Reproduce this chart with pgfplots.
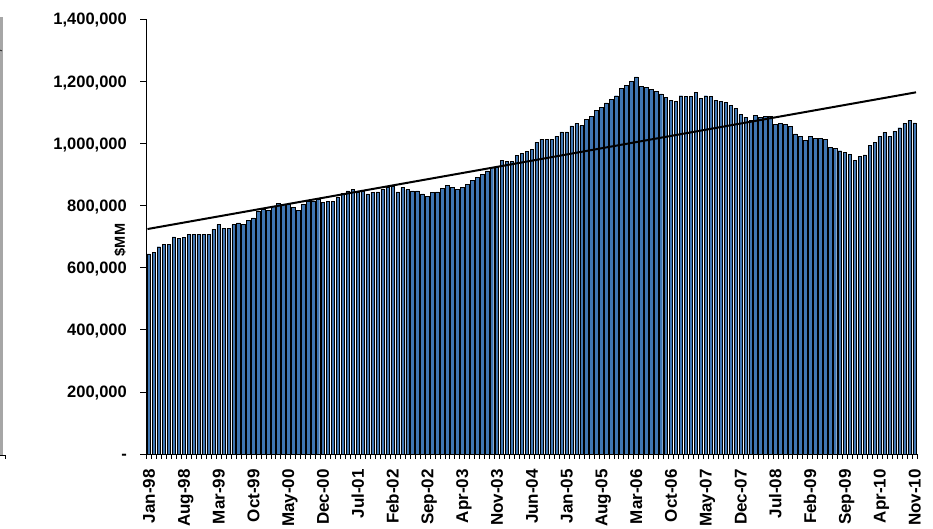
\documentclass[border=0pt]{standalone}
\usepackage{pgfplots}
\pgfplotsset{compat=1.18}
\usepackage{fontspec}
\setmainfont{Liberation Sans}
\definecolor{barblue}{RGB}{64,118,178}
\begin{document}
\begin{tikzpicture}
\useasboundingbox (-146.5pt,-75pt) rectangle (786.5pt,454pt);
% cropped edge of a neighbouring chart
\fill[gray!70] (-146.5pt,-1pt) rectangle (-143.3pt,437pt);
\draw[black, line width=0.6pt] (-146.5pt,-1pt) -- (-141.5pt,-1pt) -- (-141.5pt,-5pt);
\draw[black, line width=0.6pt] (-146.5pt,404pt) -- (-144.5pt,403pt);
\begin{axis}[name=ax, at={(0pt,0pt)}, anchor=south west,
  scale only axis, width=770.5pt, height=435pt,
  xmin=-0.5, xmax=154.5, ymin=0, ymax=1400000,
  axis x line=bottom, axis y line=left,
  axis line style={-, black, line width=0.6pt},
  tick align=outside, major tick length=6pt, minor tick length=5pt,
  ytick={0,200000,400000,600000,800000,1000000,1200000,1400000},
  yticklabels={{-},{200,000},{400,000},{600,000},{800,000},{1,000,000},{1,200,000},{1,400,000}},
  scaled y ticks=false,
  xtick={0,7,...,154},
  xticklabels={Jan-98,Aug-98,Mar-99,Oct-99,May-00,Dec-00,Jul-01,Feb-02,Sep-02,Apr-03,Nov-03,Jun-04,Jan-05,Aug-05,Mar-06,Oct-06,May-07,Dec-07,Jul-08,Feb-09,Sep-09,Apr-10,Nov-10},
  minor xtick={-0.5,0.5,...,154.5},
  major x tick style={draw=none},
  minor x tick style={black, line width=0.5pt},
  y tick style={black, line width=0.6pt},
  tick label style={inner sep=0pt, text height=12pt, text depth=0pt},
  yticklabel style={anchor=east, font=\bfseries\fontsize{16.5}{16.5}\selectfont},
  yticklabel shift=13.5pt,
  xticklabel style={rotate=90, anchor=east, font=\bfseries\fontsize{17}{17}\selectfont},
  xticklabel shift=9pt,
]
\addplot[ybar, bar width=0.7, bar shift=0, fill=barblue, draw=black, line width=0.45pt] coordinates {
(0,644000) (1,648000) (2,667000) (3,675000) (4,675000) (5,699000) (6,694000) (7,697000)
(8,708000) (9,708000) (10,708000) (11,708000) (12,708000) (13,723000) (14,738000) (15,726000)
(16,726000) (17,738000) (18,744000) (19,740000) (20,751000) (21,760000) (22,782000) (23,787000)
(24,785000) (25,796000) (26,807000) (27,803000) (28,803000) (29,793000) (30,783000) (31,804000)
(32,812000) (33,814000) (34,820000) (35,810000) (36,814000) (37,814000) (38,826000) (39,839000)
(40,847000) (41,852000) (42,844000) (43,847000) (44,837000) (45,843000) (46,844000) (47,852000)
(48,858000) (49,862000) (50,844000) (51,857000) (52,851000) (53,847000) (54,847000) (55,837000)
(56,830000) (57,841000) (58,844000) (59,854000) (60,864000) (61,857000) (62,851000) (63,858000)
(64,868000) (65,880000) (66,890000) (67,900000) (68,911000) (69,922000) (70,922000) (71,946000)
(72,941000) (73,941000) (74,960000) (75,968000) (76,974000) (77,981000) (78,1003000) (79,1013000)
(80,1013000) (81,1013000) (82,1023000) (83,1037000) (84,1037000) (85,1056000) (86,1063000) (87,1057000)
(88,1077000) (89,1087000) (90,1105000) (91,1116000) (92,1130000) (93,1142000) (94,1153000) (95,1177000)
(96,1187000) (97,1200000) (98,1214000) (99,1184000) (100,1180000) (101,1174000) (102,1166000) (103,1159000)
(104,1148000) (105,1139000) (106,1136000) (107,1153000) (108,1150000) (109,1150000) (110,1163000) (111,1145000)
(112,1153000) (113,1150000) (114,1139000) (115,1136000) (116,1132000) (117,1123000) (118,1112000) (119,1093000)
(120,1084000) (121,1073000) (122,1089000) (123,1084000) (124,1086000) (125,1086000) (126,1061000) (127,1064000)
(128,1061000) (129,1055000) (130,1030000) (131,1023000) (132,1010000) (133,1023000) (134,1016000) (135,1016000)
(136,1013000) (137,987000) (138,984000) (139,976000) (140,970000) (141,965000) (142,946000) (143,957000)
(144,963000) (145,993000) (146,1003000) (147,1023000) (148,1035000) (149,1023000) (150,1039000) (151,1050000)
(152,1064000) (153,1073000) (154,1066000)
};
% linear trend
\addplot[black, line width=2pt] coordinates {(-0.3,724000) (154.3,1164000)};
\end{axis}
\node[rotate=90, font=\bfseries\fontsize{14.5}{14.5}\selectfont, inner sep=0pt] at (-26.5pt,214pt) {\$MM};
\end{tikzpicture}
\end{document}
